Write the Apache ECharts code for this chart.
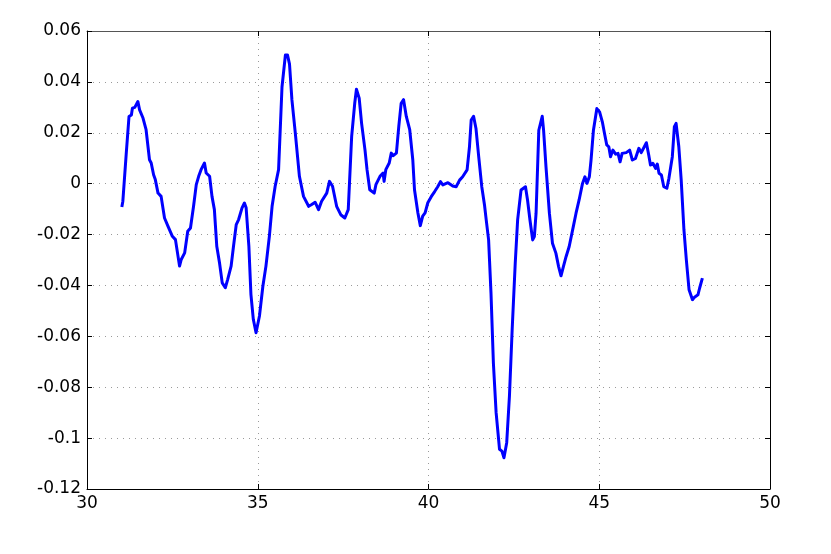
<!DOCTYPE html>
<html>
<head>
<meta charset="utf-8">
<script src="https://cdn.jsdelivr.net/npm/echarts@6/dist/echarts.min.js"></script>
<style>
  html, body { margin: 0; padding: 0; background: #fff; }
  #main { width: 831px; height: 554px; }
</style>
</head>
<body>
<div id="main"></div>
<script>
// time axis
const xVals = [
  31.02, 31.05, 31.15, 31.23, 31.30, 31.33, 31.40, 31.49, 31.54, 31.64,
  31.73, 31.83, 31.88, 31.95, 32.00, 32.08, 32.17, 32.27, 32.37, 32.50,
  32.59, 32.71, 32.76, 32.86, 32.95, 33.03, 33.12, 33.20, 33.27, 33.34,
  33.44, 33.49, 33.59, 33.66, 33.73, 33.80, 33.88, 33.96, 34.05, 34.12,
  34.22, 34.29, 34.37, 34.44, 34.54, 34.61, 34.66, 34.74, 34.80, 34.87,
  34.95, 35.05, 35.15, 35.24, 35.34, 35.42, 35.51, 35.61, 35.71, 35.81,
  35.87, 35.93, 36.00, 36.10, 36.22, 36.34, 36.49, 36.58, 36.68, 36.78,
  36.87, 37.02, 37.10, 37.19, 37.31, 37.43, 37.55, 37.65, 37.75, 37.84,
  37.89, 37.97, 38.04, 38.14, 38.20, 38.28, 38.41, 38.46, 38.58, 38.67,
  38.70, 38.75, 38.85, 38.91, 38.96, 39.06, 39.13, 39.20, 39.27, 39.35,
  39.45, 39.54, 39.59, 39.69, 39.76, 39.83, 39.90, 39.98, 40.08, 40.18,
  40.27, 40.35, 40.42, 40.57, 40.71, 40.81, 40.91, 41.00, 41.13, 41.20,
  41.25, 41.32, 41.39, 41.47, 41.56, 41.64, 41.69, 41.76, 41.83, 41.90,
  41.98, 42.08, 42.15, 42.21, 42.29, 42.37, 42.45, 42.54, 42.61, 42.71,
  42.84, 42.90, 42.97, 43.05, 43.10, 43.15, 43.23, 43.33, 43.37, 43.44,
  43.54, 43.63, 43.73, 43.81, 43.88, 43.95, 44.03, 44.12, 44.24, 44.32,
  44.41, 44.51, 44.58, 44.64, 44.71, 44.76, 44.83, 44.93, 45.01, 45.09,
  45.15, 45.22, 45.28, 45.33, 45.40, 45.48, 45.55, 45.61, 45.67, 45.79,
  45.89, 45.97, 46.06, 46.16, 46.23, 46.38, 46.45, 46.50, 46.57, 46.65,
  46.70, 46.75, 46.82, 46.89, 46.98, 47.04, 47.14, 47.20, 47.25, 47.33,
  47.40, 47.48, 47.55, 47.63, 47.73, 47.79, 47.89, 47.94, 48.02
];
const yVals = [
  -0.0092, -0.0069, 0.0120, 0.0264, 0.0270, 0.0297, 0.0300, 0.0323, 0.0290, 0.0258,
  0.0212, 0.0094, 0.0081, 0.0035, 0.0016, -0.0037, -0.0050, -0.0135, -0.0167, -0.0207,
  -0.0220, -0.0324, -0.0298, -0.0272, -0.0187, -0.0174, -0.0089, -0.0004, 0.0029, 0.0055,
  0.0081, 0.0042, 0.0029, -0.0050, -0.0102, -0.0246, -0.0311, -0.0390, -0.0409, -0.0376,
  -0.0324, -0.0246, -0.0161, -0.0141, -0.0095, -0.0076, -0.0095, -0.0246, -0.0435, -0.0533,
  -0.0586, -0.0520, -0.0403, -0.0324, -0.0207, -0.0089, -0.0010, 0.0055, 0.0380, 0.0506,
  0.0506, 0.0470, 0.0330, 0.0199, 0.0029, -0.0050, -0.0089, -0.0082, -0.0073, -0.0102,
  -0.0069, -0.0037, 0.0009, -0.0010, -0.0089, -0.0122, -0.0135, -0.0102, 0.0186, 0.0316,
  0.0371, 0.0336, 0.0238, 0.0133, 0.0055, -0.0024, -0.0037, -0.0004, 0.0029, 0.0042,
  0.0009, 0.0055, 0.0081, 0.0120, 0.0110, 0.0120, 0.0225, 0.0316, 0.0330, 0.0264,
  0.0212, 0.0094, -0.0024, -0.0115, -0.0165, -0.0128, -0.0115, -0.0075, -0.0051, -0.0031,
  -0.0012, 0.0008, -0.0005, 0.0004, -0.0009, -0.0012, 0.0014, 0.0027, 0.0054, 0.0145,
  0.0250, 0.0265, 0.0217, 0.0106, -0.0012, -0.0084, -0.0142, -0.0221, -0.0430, -0.0705,
  -0.0900, -0.1044, -0.1051, -0.1077, -0.1018, -0.0835, -0.0573, -0.0312, -0.0142, -0.0025,
  -0.0012, -0.0064, -0.0142, -0.0221, -0.0208, -0.0116, 0.0210, 0.0265, 0.0210, 0.0067,
  -0.0116, -0.0234, -0.0273, -0.0326, -0.0362, -0.0326, -0.0286, -0.0247, -0.0169, -0.0116,
  -0.0064, 0.0001, 0.0027, 0.0001, 0.0027, 0.0093, 0.0210, 0.0295, 0.0282, 0.0243,
  0.0200, 0.0152, 0.0145, 0.0106, 0.0132, 0.0116, 0.0119, 0.0086, 0.0119, 0.0122,
  0.0132, 0.0093, 0.0099, 0.0139, 0.0122, 0.0161, 0.0112, 0.0073, 0.0080, 0.0060,
  0.0077, 0.0041, 0.0034, -0.0012, -0.0018, 0.0021, 0.0106, 0.0224, 0.0237, 0.0145,
  0.0014, -0.0182, -0.0299, -0.0417, -0.0456, -0.0446, -0.0437, -0.0410, -0.0371
];

const xMin = 30, xMax = 50, xStep = 5;
const yMin = -0.12, yMax = 0.06, yStep = 0.02;

const points = xVals.map((x, i) => [x, yVals[i]]);

const font = 'DejaVu Sans, Liberation Sans, Arial, sans-serif';
const axisLine = { show: true, onZero: false, lineStyle: { color: '#000', width: 1 } };
const tick = { show: true, inside: true, length: 5, lineStyle: { color: '#000' } };
const dotted = { show: true, lineStyle: { color: '#9a9a9a', width: 1, type: [1, 5] } };

const chart = echarts.init(document.getElementById('main'), null, { renderer: 'canvas' });
chart.setOption({
  animation: false,
  backgroundColor: '#fff',
  grid: { left: 87, right: 61, top: 31, bottom: 65, containLabel: false },
  xAxis: [
    {
      type: 'value', position: 'bottom', min: xMin, max: xMax, interval: xStep,
      axisLine: axisLine, axisTick: tick, splitLine: dotted,
      axisLabel: { color: '#000', fontSize: 17, fontFamily: font, margin: 6 }
    },
    {
      type: 'value', position: 'top', min: xMin, max: xMax, interval: xStep,
      axisLine: { show: true, onZero: false, lineStyle: { color: '#555', width: 1 } },
      axisTick: tick, splitLine: { show: false },
      axisLabel: { show: false }
    }
  ],
  yAxis: [
    {
      type: 'value', position: 'left', min: yMin, max: yMax, interval: yStep,
      axisLine: axisLine, axisTick: tick, splitLine: dotted,
      axisLabel: {
        color: '#000', fontSize: 17, fontFamily: font, margin: 6,
        formatter: v => String(parseFloat(v.toFixed(2)))
      }
    },
    {
      type: 'value', position: 'right', min: yMin, max: yMax, interval: yStep,
      axisLine: axisLine, axisTick: tick, splitLine: { show: false },
      axisLabel: { show: false }
    }
  ],
  series: [
    {
      type: 'line',
      data: points,
      showSymbol: false,
      symbol: 'none',
      lineStyle: { color: '#0000ff', width: 3, join: 'round' }
    }
  ]
});
</script>
</body>
</html>
